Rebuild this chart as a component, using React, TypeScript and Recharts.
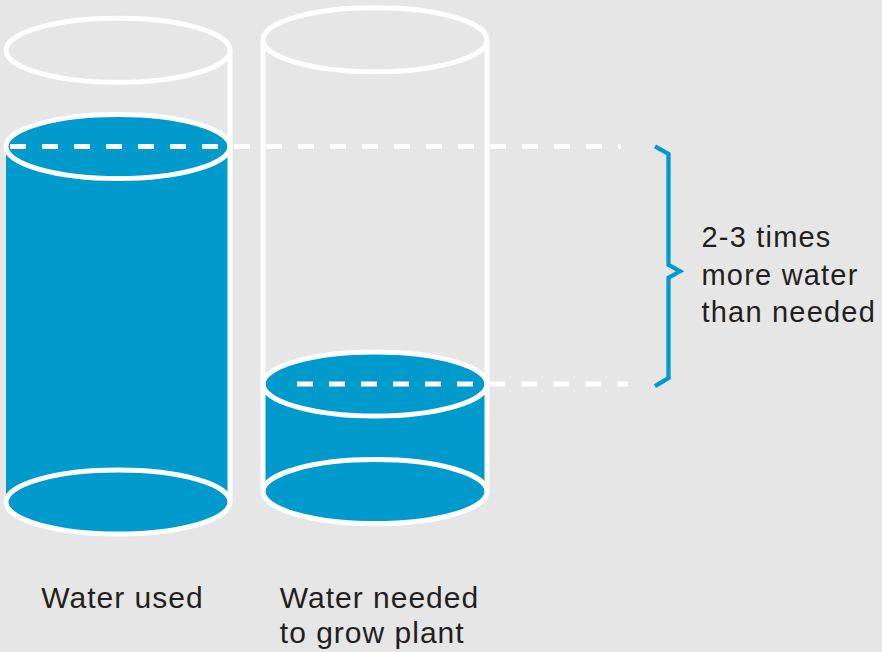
import React from 'react';
import { ComposedChart, Bar, XAxis, YAxis, ReferenceLine, ReferenceArea } from 'recharts';

// ---- data (units = % of cylinder capacity) ----
const categories = ['Water used', 'Water needed to grow plant'];
const categoryLines = [['Water used'], ['Water needed', 'to grow plant']];
const baseOffset = [0, 2.3];
const waterLevel = [78.7, 23.8];
const capacity = [100, 100];
const bracketText = ['2-3 times', 'more water', 'than needed'];

// ---- styles ----
const BLUE = '#009bcc';
const BG = '#e6e6e6';
const WHITE = '#ffffff';
const TEXT = '#231f20';
const FONT = '"Liberation Sans", Arial, Helvetica, sans-serif';
const RY = 32;
const SW = 5;
const LABEL_SIZE = 30;
const LABEL_SPACING = 1;

const data = categories.map((name, i) => ({
  name,
  base: baseOffset[i],
  water: waterLevel[i],
  empty: capacity[i] - waterLevel[i],
}));
const usedLevel = baseOffset[0] + waterLevel[0];
const neededLevel = baseOffset[1] + waterLevel[1];

let measureCtx: CanvasRenderingContext2D | null = null;
const measure = (s: string) => {
  if (!measureCtx && typeof document !== 'undefined') {
    measureCtx = document.createElement('canvas').getContext('2d');
  }
  if (!measureCtx) return s.length * LABEL_SIZE * 0.55;
  measureCtx.font = `${LABEL_SIZE}px "Liberation Sans", Arial, sans-serif`;
  return measureCtx.measureText(s).width + LABEL_SPACING * s.length;
};

const WaterShape = (p: any) => {
  const { x, y, width, height, index } = p;
  const cx = x + width / 2;
  const rx = width / 2;
  const bottom = y + height;
  return (
    <g>
      <rect x={x} y={y} width={width} height={height} fill={BLUE} />
      <ellipse cx={cx} cy={bottom} rx={rx} ry={RY} fill={BLUE} stroke={WHITE} strokeWidth={SW} />
      <ellipse cx={cx} cy={y} rx={rx} ry={RY} fill={BLUE} stroke={WHITE} strokeWidth={SW} />
      {index !== 0 && <line x1={x} x2={x} y1={y} y2={bottom} stroke={WHITE} strokeWidth={SW} />}
      <line x1={x + width} x2={x + width} y1={y} y2={bottom} stroke={WHITE} strokeWidth={SW} />
    </g>
  );
};

const EmptyShape = (p: any) => {
  const { x, y, width, height, index } = p;
  const cx = x + width / 2;
  const rx = width / 2;
  return (
    <g>
      {index !== 0 && <line x1={x} x2={x} y1={y} y2={y + height} stroke={WHITE} strokeWidth={SW} />}
      <line x1={x + width} x2={x + width} y1={y} y2={y + height} stroke={WHITE} strokeWidth={SW} />
      <ellipse cx={cx} cy={y} rx={rx} ry={RY} fill="none" stroke={WHITE} strokeWidth={SW} />
    </g>
  );
};

const dashed = (xStart: number, xEnd: number) => (p: any) => (
  <line
    x1={xStart}
    x2={xEnd}
    y1={p.y1}
    y2={p.y1}
    stroke={WHITE}
    strokeWidth={SW}
    strokeDasharray="16 16"
  />
);

const BracketShape = (p: any) => {
  const { y, height } = p;
  const t = y;
  const b = y + height + 2;
  const X = 668.5;
  const L = 655;
  const mid = (t + b) / 2 + 5;
  const d = `M ${L} ${t} L ${X} ${t + 7.5} L ${X} ${mid - 6.5} L 680 ${mid} L ${X} ${mid + 6.5} L ${X} ${b - 8} L ${L} ${b}`;
  return (
    <g>
      <path d={d} fill="none" stroke={BLUE} strokeWidth={4.3} strokeLinejoin="miter" />
      <text x={701.5} fontFamily={FONT} fontSize={29} letterSpacing={1.2} fill={TEXT}>
        {bracketText.map((s, i) => (
          <tspan key={i} x={701.5} y={t + 100.4 + i * 37.8}>
            {s}
          </tspan>
        ))}
      </text>
    </g>
  );
};

const CategoryTick = (p: any) => {
  const { x, y, payload } = p;
  const idx = categories.indexOf(payload.value);
  const lines = idx >= 0 ? categoryLines[idx] : [String(payload.value)];
  const blockWidth = Math.max(...lines.map(measure));
  const startX = x + 5 - blockWidth / 2;
  return (
    <text
      x={startX}
      y={y}
      textAnchor="start"
      fontFamily={FONT}
      fontSize={LABEL_SIZE}
      letterSpacing={LABEL_SPACING}
      fill={TEXT}
    >
      {lines.map((l, i) => (
        <tspan key={i} x={startX} y={y + 106 + i * 35}>
          {l}
        </tspan>
      ))}
    </text>
  );
};

export default function App() {
  return (
    <div style={{ position: 'absolute', left: 0, top: 0, width: 882, height: 652, background: BG }}>
      <ComposedChart
        width={882}
        height={652}
        data={data}
        margin={{ top: 5, right: 379, bottom: 0, left: -11 }}
        barSize={224}
        barCategoryGap={0}
      >
        <XAxis
          dataKey="name"
          height={150}
          tickSize={0}
          tickMargin={0}
          axisLine={false}
          tickLine={false}
          interval={0}
          tick={(p: any) => <CategoryTick {...p} />}
        />
        <YAxis hide domain={[0, 110]} />
        <Bar dataKey="base" stackId="a" fill="none" isAnimationActive={false} />
        <Bar dataKey="water" stackId="a" shape={WaterShape} isAnimationActive={false} />
        <Bar dataKey="empty" stackId="a" shape={EmptyShape} isAnimationActive={false} />
        <ReferenceLine y={usedLevel} shape={dashed(10, 621)} ifOverflow="visible" />
        <ReferenceLine y={neededLevel} shape={dashed(297, 628)} ifOverflow="visible" />
        <ReferenceArea y1={neededLevel} y2={usedLevel} shape={BracketShape} ifOverflow="visible" />
      </ComposedChart>
    </div>
  );
}
